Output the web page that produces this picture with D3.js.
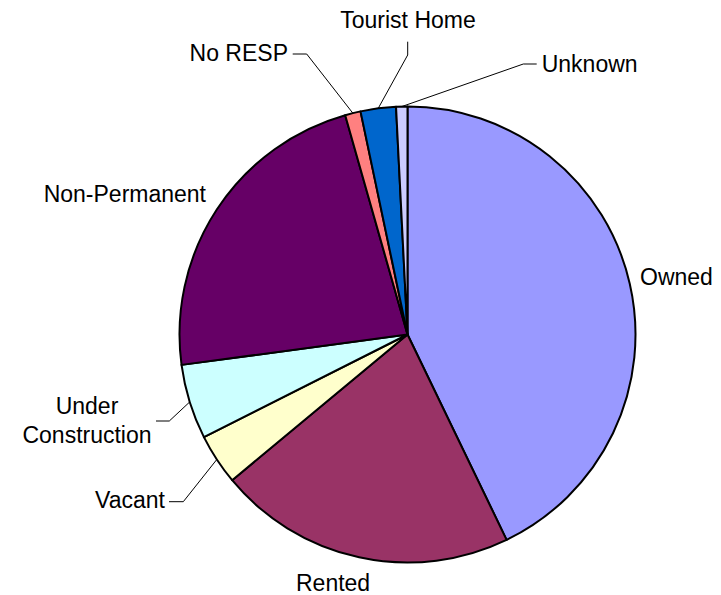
<!DOCTYPE html>
<html>
<head>
<meta charset="utf-8">
<script src="https://cdn.jsdelivr.net/npm/d3@7"></script>
<style>
  html, body { margin: 0; padding: 0; background: #fff; }
  svg { display: block; }
  text { font-family: "Liberation Sans", Arial, sans-serif; font-size: 23px; fill: #000; }
</style>
</head>
<body>
<svg id="chart" width="721" height="595"></svg>
<script>
// ---- data ----
const categories = ["Owned", "Rented", "Vacant", "Under Construction", "Non-Permanent", "No RESP", "Tourist Home", "Unknown"];
const values = [42.8, 21.1, 3.6, 5.3, 22.7, 1.1, 2.5, 0.8];
const colors = ["#9999FF", "#993366", "#FFFFCC", "#CCFFFF", "#660066", "#FF8080", "#0066CC", "#CCCCFF"];
const labelLines = [["Owned"], ["Rented"], ["Vacant"], ["Under", "Construction"], ["Non-Permanent"], ["No RESP"], ["Tourist Home"], ["Unknown"]];

// ---- layout (offsets from pie centre) ----
const cx = 407.5, cy = 334.5, R = 228;
// leader: elbow [dx,dy], end [dx,dy] relative to centre; text: [x,y] relative to centre, anchor
const labelLayout = [
  { leader: null, text: [232.5, -49.5], anchor: "start" },
  { leader: null, text: [-111.5, 256.5], anchor: "start" },
  { leader: { elbow: [-224.2, 167.2], end: [-238.5, 167.2] }, text: [-242.5, 173.8], anchor: "end" },
  { leader: { elbow: [-238.2, 86.5], end: [-251.5, 86.5] }, text: [-320.5, 79.5], anchor: "middle", lineGap: 29.3 },
  { leader: null, text: [-201.5, -132.8], anchor: "end" },
  { leader: { elbow: [-100.8, -280.5], end: [-114.8, -280.5] }, text: [-119.5, -273.5], anchor: "end" },
  { leader: { elbow: [0.2, -279.5], end: [0.2, -292.8] }, text: [0.5, -306.2], anchor: "middle" },
  { leader: { elbow: [115.8, -270.5], end: [129.2, -270.5] }, text: [134.2, -262.8], anchor: "start" }
];

const svg = d3.select("#chart");
const g = svg.append("g").attr("transform", `translate(${cx},${cy})`);

const pie = d3.pie().sort(null).value(d => d.value);
const data = categories.map((c, i) => ({ name: c, value: values[i], color: colors[i], lines: labelLines[i], layout: labelLayout[i] }));
const arcs = pie(data);
const arc = d3.arc().innerRadius(0).outerRadius(R);

g.selectAll("path.slice")
  .data(arcs)
  .join("path")
  .attr("class", "slice")
  .attr("d", arc)
  .attr("fill", d => d.data.color)
  .attr("stroke", "#000")
  .attr("stroke-width", 2)
  .attr("stroke-linejoin", "round");

// leader lines
const lineGen = d3.line();
arcs.forEach(a => {
  const L = a.data.layout;
  if (!L.leader) return;
  const mid = (a.startAngle + a.endAngle) / 2;
  const start = [R * Math.sin(mid), -R * Math.cos(mid)];
  g.append("path")
    .attr("d", lineGen([start, L.leader.elbow, L.leader.end]))
    .attr("fill", "none")
    .attr("stroke", "#000")
    .attr("stroke-width", 1);
});

// labels
arcs.forEach(a => {
  const L = a.data.layout;
  const t = g.append("text")
    .attr("x", L.text[0])
    .attr("y", L.text[1])
    .attr("text-anchor", L.anchor);
  a.data.lines.forEach((ln, i) => {
    t.append("tspan")
      .attr("x", L.text[0])
      .attr("dy", i === 0 ? 0 : L.lineGap)
      .text(ln);
  });
});
</script>
</body>
</html>
